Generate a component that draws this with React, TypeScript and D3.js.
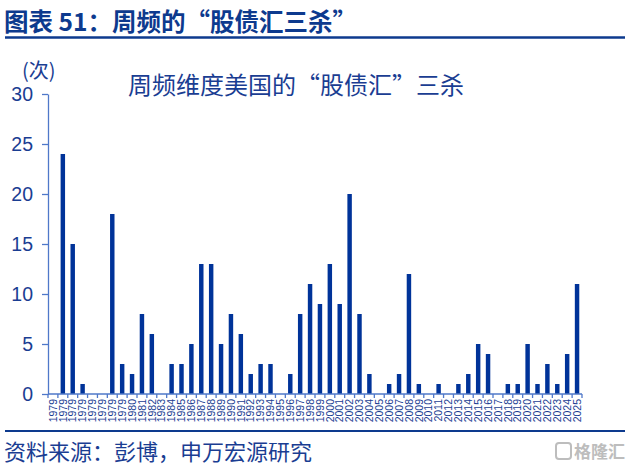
import React, { useEffect, useRef } from "react";
import * as d3 from "d3";

const categories: string[] = [
  "1979", "1979", "1979", "1979", "1979", "1979", "1979", "1979",
  "1980", "1981", "1982", "1983", "1984", "1985", "1986", "1987", "1988", "1989",
  "1990", "1991", "1992", "1993", "1994", "1995", "1996", "1997", "1998", "1999",
  "2000", "2001", "2002", "2003", "2004", "2005", "2006", "2007", "2008", "2009",
  "2010", "2011", "2012", "2013", "2014", "2015", "2016", "2017", "2018", "2019",
  "2020", "2021", "2022", "2023", "2024", "2025",
];
const counts: number[] = [
  0, 24, 15, 1, 0, 0, 18, 3,
  2, 8, 6, 0, 3, 3, 5, 13, 13, 5,
  8, 6, 2, 3, 3, 0, 2, 8, 11, 9,
  13, 9, 20, 8, 2, 0, 1, 2, 12, 1,
  0, 1, 0, 1, 2, 5, 4, 0, 1, 1,
  5, 1, 3, 1, 4, 11,
];
const yTicks: number[] = [0, 5, 10, 15, 20, 25, 30];

const W = 629;
const H = 468;
const BLUE = "#003399";
const TEXT = "#1a3d92";
const AXIS = "#4f78c9";

export default function App() {
  const ref = useRef<SVGSVGElement>(null);
  useEffect(() => {
    const svg = d3.select(ref.current);
    svg.selectAll("*").remove();
    const x0 = 48, x1 = 582, yTop = 94, yBot = 394;
    const x = d3.scaleBand<number>().domain(d3.range(categories.length)).range([x0, x1]).paddingInner(0.55).paddingOuter(0.275);
    const xb = d3.scaleBand<number>().domain(d3.range(categories.length)).range([x0, x1]);
    const y = d3.scaleLinear().domain([0, 30]).range([yBot, yTop]);

    svg.append("rect").attr("width", W).attr("height", H).attr("fill", "#fff");

    // header
    svg.append("text").attr("x", 4).attr("y", 31).attr("fill", "#0d3a8e")
      .attr("font-family", "'Noto Sans CJK SC', sans-serif").attr("font-weight", 700).attr("font-size", 24.5)
      .text("图表 51：周频的“股债汇三杀”");
    svg.append("line").attr("x1", 5).attr("x2", 625).attr("y1", 37.5).attr("y2", 37.5).attr("stroke", "#0d3a8e").attr("stroke-width", 2.5);

    // chart title
    svg.append("text").attr("x", 128).attr("y", 94).attr("fill", TEXT)
      .attr("font-family", "'Noto Sans CJK SC', sans-serif").attr("font-size", 24)
      .text("周频维度美国的“股债汇”三杀");
    svg.append("text").attr("x", 22).attr("y", 78).attr("fill", TEXT)
      .attr("font-family", "'Noto Sans CJK SC', sans-serif").attr("font-size", 20)
      .text("(次)");

    // bars
    svg.append("g").selectAll("rect").data(counts).join("rect")
      .attr("x", (_, i) => x(i)!)
      .attr("width", x.bandwidth())
      .attr("y", d => y(d))
      .attr("height", d => y(0) - y(d))
      .attr("fill", BLUE);

    // y axis
    const ya = svg.append("g").attr("transform", `translate(${x0},0)`)
      .call(d3.axisLeft(y).tickValues(yTicks).tickSize(6).tickPadding(9).tickSizeOuter(0));
    ya.select(".domain").attr("stroke", AXIS).attr("stroke-width", 1.3);
    ya.selectAll(".tick line").attr("stroke", AXIS).attr("stroke-width", 1.3);
    ya.selectAll(".tick text").attr("fill", TEXT).attr("font-size", 19.5)
      .attr("font-family", "'Liberation Sans', Arial, sans-serif");

    // x axis
    const xa = svg.append("g").attr("transform", `translate(0,${yBot})`);
    xa.append("line").attr("x1", x0).attr("x2", x1).attr("stroke", AXIS).attr("stroke-width", 1.3);
    xa.selectAll("line.tk").data(d3.range(categories.length + 1)).join("line").attr("class", "tk")
      .attr("x1", i => i < categories.length ? xb(i)! : x1)
      .attr("x2", i => i < categories.length ? xb(i)! : x1)
      .attr("y1", 0).attr("y2", 4).attr("stroke", AXIS).attr("stroke-width", 1.3);
    xa.selectAll("text").data(categories).join("text")
      .attr("transform", (_, i) => `translate(${xb(i)! + xb.bandwidth() / 2 + 3.7},5) rotate(-90)`)
      .attr("text-anchor", "end")
      .attr("fill", TEXT).attr("font-size", 10.5)
      .attr("font-family", "'Liberation Sans', Arial, sans-serif")
      .text(d => d);

    // footer
    svg.append("line").attr("x1", 5).attr("x2", 625).attr("y1", 431).attr("y2", 431).attr("stroke", "#0d3a8e").attr("stroke-width", 2);
    svg.append("text").attr("x", 4).attr("y", 460).attr("fill", TEXT)
      .attr("font-family", "'Noto Sans CJK SC', sans-serif").attr("font-size", 22)
      .text("资料来源：彭博，申万宏源研究");
    const wm = svg.append("g").attr("transform", "translate(555,442)");
    wm.append("rect").attr("x", 1).attr("y", 1).attr("width", 15).attr("height", 16).attr("rx", 3)
      .attr("fill", "none").attr("stroke", "#bdbdbd").attr("stroke-width", 2);
    wm.append("text").attr("x", 19).attr("y", 16).attr("fill", "#bdbdbd")
      .attr("font-family", "'Noto Sans CJK SC', sans-serif").attr("font-size", 17).attr("font-weight", 700)
      .text("格隆汇");
  }, []);
  return (
    <svg ref={ref} width={W} height={H} style={{ position: "absolute", left: 0, top: 0 }} />
  );
}
